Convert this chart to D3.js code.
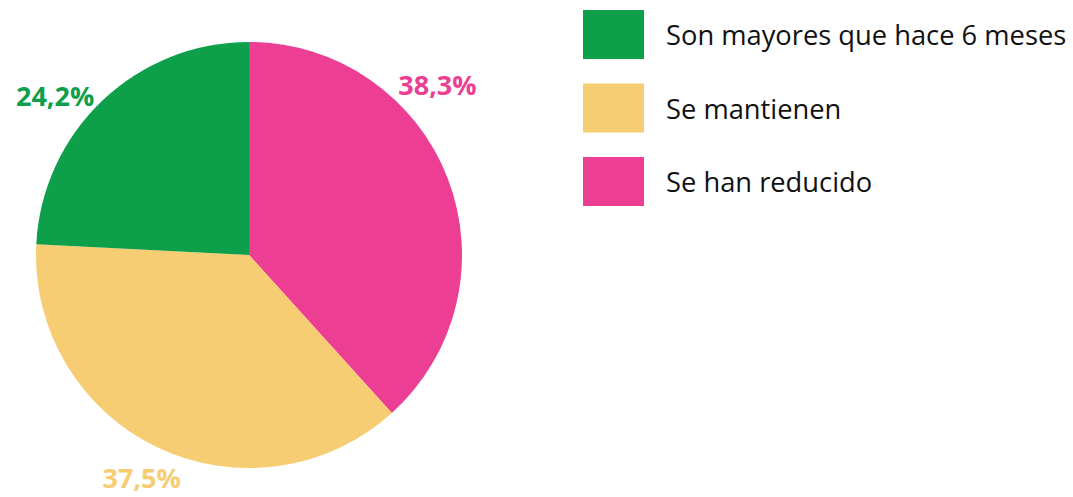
<!DOCTYPE html>
<html><head><meta charset="utf-8">
<script src="https://cdn.jsdelivr.net/npm/d3@7"></script>
<style>body{margin:0;background:#fff;} svg{display:block;}</style>
</head><body>
<svg id="c" width="1073" height="497"></svg>
<script>
const categories = ["Son mayores que hace 6 meses", "Se mantienen", "Se han reducido"];
const values = [24.2, 37.5, 38.3];
const labels = ["24,2%", "37,5%", "38,3%"];
const colors = ["#0e9f4a", "#f6cd72", "#ec3f94"];
const pieOrder = [2, 1, 0]; // drawing order clockwise from top

const svg = d3.select("#c");
const cx = 249, cy = 255, R = 213;
const g = svg.append("g").attr("transform", `translate(${cx},${cy})`);

const pie = d3.pie().sort(null).value(i => values[i]);
const arcs = pie(pieOrder);
const arc = d3.arc().innerRadius(0).outerRadius(R);

g.selectAll("path").data(arcs).join("path")
  .attr("d", arc).attr("fill", d => colors[d.data]);

const labelArc = d3.arc().innerRadius(R + 35).outerRadius(R + 35);
const labelShift = {0: [-23, 20], 1: [-1, -2], 2: [-43, -81]};
g.selectAll("text.lbl").data(arcs).join("text")
  .attr("class", "lbl")
  .attr("x", d => labelArc.centroid(d)[0] + labelShift[d.data][0])
  .attr("y", d => labelArc.centroid(d)[1] + labelShift[d.data][1])
  .attr("text-anchor", "middle")
  .attr("dominant-baseline", "central")
  .attr("font-family", "'Open Sans', sans-serif")
  .attr("font-weight", 700)
  .attr("font-size", 27)
  .attr("fill", d => colors[d.data])
  .text(d => labels[d.data]);

const leg = svg.append("g");
const ly = d3.scaleBand().domain(d3.range(categories.length)).range([10, 206]).paddingInner(1/3).paddingOuter(0);
categories.forEach((c, i) => {
  leg.append("rect").attr("x", 583).attr("y", ly(i)).attr("width", 61).attr("height", ly.bandwidth()).attr("fill", colors[i]);
  leg.append("text").attr("x", 666).attr("y", ly(i) + ly.bandwidth() / 2)
    .attr("dominant-baseline", "central")
    .attr("font-family", "'Open Sans', sans-serif")
    .attr("font-size", 27.3)
    .attr("fill", "#111")
    .text(c);
});
</script>
</body></html>
